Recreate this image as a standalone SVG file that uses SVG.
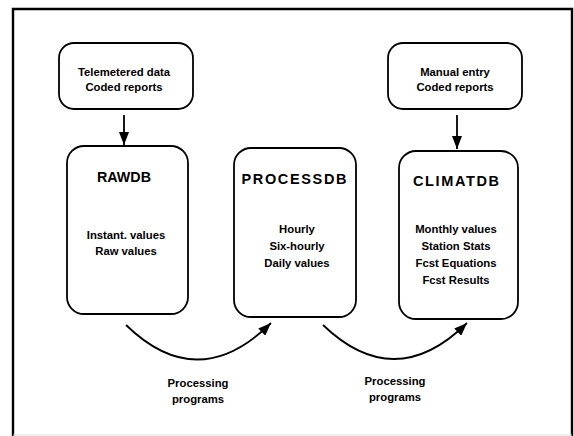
<svg xmlns="http://www.w3.org/2000/svg" width="574" height="436" viewBox="0 0 574 436">
<defs>
<style>
.box{fill:#fff;stroke:#000;stroke-width:1.8}
.t{font-family:"Liberation Sans",Arial,sans-serif;font-weight:bold;font-size:11.3px;fill:#000;text-anchor:middle}
.title{font-size:14.5px}
.con{fill:none;stroke:#000;stroke-width:1.8}
</style>
<marker id="ah" markerUnits="userSpaceOnUse" markerWidth="14" markerHeight="10" refX="13" refY="5" orient="auto">
<path d="M0,0 L13,5 L0,10 Z" fill="#000"/>
</marker>
</defs>
<rect width="574" height="436" fill="#fff"/>
<g id="frame" fill="none" stroke="#000">
<path d="M13,436 L13,9 L572,9 L572,436" stroke-width="2.4"/>
<path d="M13,435 L572,435" stroke="#e2e2e2" stroke-width="1"/>
</g>
<g id="connectors">
<path class="con" d="M124,115 L124,145" marker-end="url(#ah)"/>
<path class="con" d="M457,115 L457,149" marker-end="url(#ah)"/>
<path class="con" d="M126,325 Q198,395 271,323" marker-end="url(#ah)"/>
<path class="con" d="M323,325 Q395,394 467,323" marker-end="url(#ah)"/>
</g>
<g id="telemetered">
<rect class="box" x="59" y="43" width="134" height="66" rx="15"/>
<text class="t" x="124" y="76">Telemetered data</text>
<text class="t" x="124" y="91">Coded reports</text>
</g>
<g id="manual">
<rect class="box" x="388" y="43" width="134" height="66" rx="15"/>
<text class="t" x="455" y="76">Manual entry</text>
<text class="t" x="455" y="91">Coded reports</text>
</g>
<g id="rawdb">
<rect class="box" x="67" y="146" width="121" height="168" rx="17"/>
<text class="t title" x="124" y="182" textLength="54" lengthAdjust="spacingAndGlyphs">RAWDB</text>
<text class="t" x="126" y="239">Instant. values</text>
<text class="t" x="126" y="255">Raw values</text>
</g>
<g id="processdb">
<rect class="box" x="234" y="148" width="122" height="169" rx="17"/>
<text class="t title" x="294" y="184" textLength="105" lengthAdjust="spacing">PROCESSDB</text>
<text class="t" x="297" y="233">Hourly</text>
<text class="t" x="297" y="250">Six-hourly</text>
<text class="t" x="297" y="267">Daily values</text>
</g>
<g id="climatdb">
<rect class="box" x="399" y="151" width="119" height="168" rx="17"/>
<text class="t title" x="456" y="186" textLength="86" lengthAdjust="spacing">CLIMATDB</text>
<text class="t" x="456" y="233">Monthly values</text>
<text class="t" x="456" y="250">Station Stats</text>
<text class="t" x="456" y="267">Fcst Equations</text>
<text class="t" x="456" y="284">Fcst Results</text>
</g>
<g id="label1">
<text class="t" x="198" y="387">Processing</text>
<text class="t" x="198" y="403">programs</text>
</g>
<g id="label2">
<text class="t" x="395" y="385">Processing</text>
<text class="t" x="395" y="401">programs</text>
</g>
</svg>
